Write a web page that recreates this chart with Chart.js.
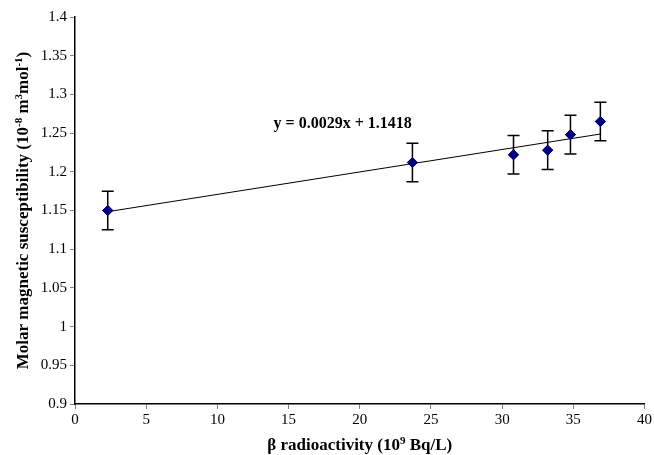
<!DOCTYPE html>
<html>
<head>
<meta charset="utf-8">
<script src="https://cdn.jsdelivr.net/npm/chart.js@4"></script>
<style>
  html, body { margin: 0; padding: 0; background: #fff; }
  #wrap { width: 654px; height: 455px; }
</style>
</head>
<body>
<div id="wrap"><canvas id="chart"></canvas></div>
<script>
// data
const activity = [2.3, 23.7, 30.8, 33.2, 34.8, 36.9];
const susceptibility = [1.150, 1.212, 1.222, 1.228, 1.248, 1.265];
const errors = [0.025, 0.025, 0.025, 0.025, 0.025, 0.025];
const fitSlope = [0.0029];
const fitIntercept = [1.1418];
const xTicks = [0, 5, 10, 15, 20, 25, 30, 35, 40];
const yTicks = [0.9, 0.95, 1, 1.05, 1.1, 1.15, 1.2, 1.25, 1.3, 1.35, 1.4];

const serif = "'Liberation Serif', 'Times New Roman', serif";

const points = activity.map((x, i) => ({ x: x, y: susceptibility[i] }));
const xFirst = activity[0], xLast = activity[activity.length - 1];
const trend = [
    { x: xFirst, y: fitSlope[0] * xFirst + fitIntercept[0] },
    { x: xLast, y: fitSlope[0] * xLast + fitIntercept[0] }
];

// text pieces with superscripts
const measureRich = (ctx, parts, size) => {
    let w = 0;
    parts.forEach(p => {
        ctx.font = 'bold ' + (p.sup ? Math.round(size * 0.62) : size) + 'px ' + serif;
        w += ctx.measureText(p.t).width;
    });
    return w;
};
const paintRich = (ctx, parts, size, x, y) => {
    parts.forEach(p => {
        ctx.font = 'bold ' + (p.sup ? Math.round(size * 0.62) : size) + 'px ' + serif;
        ctx.fillText(p.t, x, p.sup ? y - size * 0.38 : y);
        x += ctx.measureText(p.t).width;
    });
};

const extras = {
    id: 'extras',
    afterDatasetsDraw(chart) {
        const ctx = chart.ctx;
        const xs = chart.scales.x, ys = chart.scales.y;
        ctx.save();
        // error bars
        ctx.strokeStyle = '#000';
        ctx.lineWidth = 1.5;
        activity.forEach((x, i) => {
            const px = xs.getPixelForValue(x);
            const top = ys.getPixelForValue(susceptibility[i] + errors[i]);
            const bot = ys.getPixelForValue(susceptibility[i] - errors[i]);
            ctx.beginPath();
            ctx.moveTo(px, top); ctx.lineTo(px, bot);
            ctx.moveTo(px - 6, top); ctx.lineTo(px + 6, top);
            ctx.moveTo(px - 6, bot); ctx.lineTo(px + 6, bot);
            ctx.stroke();
        });
        // markers back on top
        chart.getDatasetMeta(0).data.forEach(el => el.draw(ctx));

        ctx.fillStyle = '#000';
        // fit equation
        ctx.font = 'bold 16px ' + serif;
        ctx.textAlign = 'center';
        ctx.textBaseline = 'middle';
        ctx.fillText('y = ' + fitSlope[0] + 'x + ' + fitIntercept[0],
            xs.getPixelForValue(18.8), ys.getPixelForValue(1.262));

        // axis titles
        ctx.textAlign = 'left';
        ctx.textBaseline = 'alphabetic';
        const xt = [{ t: 'β radioactivity (10' }, { t: '9', sup: true }, { t: ' Bq/L)' }];
        const xw = measureRich(ctx, xt, 17);
        const cx = (chart.chartArea.left + chart.chartArea.right) / 2;
        paintRich(ctx, xt, 17, cx - xw / 2, 450);

        const yt = [{ t: 'Molar magnetic susceptibility (10' }, { t: '-8', sup: true },
            { t: ' m' }, { t: '3', sup: true }, { t: 'mol' }, { t: '-1', sup: true }, { t: ')' }];
        const yw = measureRich(ctx, yt, 17);
        const cy = (chart.chartArea.top + chart.chartArea.bottom) / 2;
        ctx.translate(28, cy);
        ctx.rotate(-Math.PI / 2);
        paintRich(ctx, yt, 17, -yw / 2, 0);
        ctx.restore();
    }
};

new Chart(document.getElementById('chart'), {
    type: 'scatter',
    data: {
        datasets: [
            {
                data: points,
                pointStyle: 'rectRot',
                pointRadius: 5,
                pointHoverRadius: 5,
                backgroundColor: '#000080',
                borderColor: '#000080',
                borderWidth: 1,
                order: 1
            },
            {
                type: 'line',
                data: trend,
                borderColor: '#000',
                borderWidth: 1,
                pointRadius: 0,
                fill: false,
                order: 2
            }
        ]
    },
    options: {
        responsive: true,
        maintainAspectRatio: false,
        animation: false,
        events: [],
        layout: { padding: { top: 17, right: 9, bottom: 0, left: 0 } },
        plugins: { legend: { display: false }, tooltip: { enabled: false } },
        scales: {
            x: {
                type: 'linear',
                min: 0, max: 40,
                afterBuildTicks: s => { s.ticks = xTicks.map(v => ({ value: v })); },
                afterFit: s => { s.height = 51; },
                border: { display: true, color: '#000', width: 1.5 },
                grid: { display: true, drawOnChartArea: false, drawTicks: true, tickLength: 5, color: '#808080' },
                ticks: { color: '#000', font: { family: serif, size: 15 }, padding: 2, maxRotation: 0,
                    callback: v => String(v) }
            },
            y: {
                type: 'linear',
                min: 0.9, max: 1.4,
                afterBuildTicks: s => { s.ticks = yTicks.map(v => ({ value: v })); },
                afterFit: s => { s.width = 75; },
                border: { display: true, color: '#000', width: 1.5 },
                grid: { display: true, drawOnChartArea: false, drawTicks: true, tickLength: 5, color: '#808080' },
                ticks: { color: '#000', font: { family: serif, size: 15 }, padding: 3,
                    callback: v => String(Math.round(v * 100) / 100) }
            }
        }
    },
    plugins: [extras]
});
</script>
</body>
</html>
